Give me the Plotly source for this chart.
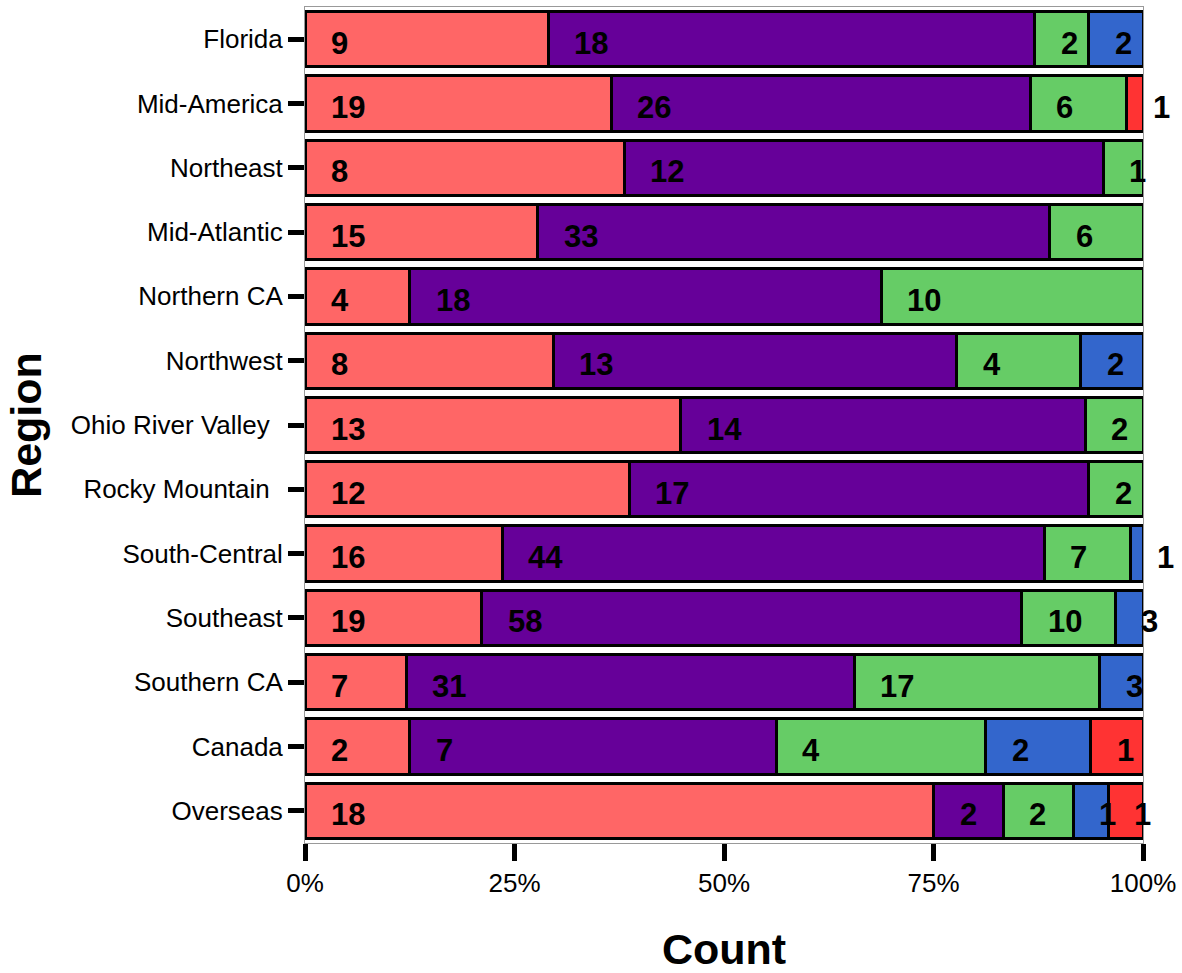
import plotly.graph_objects as go

regions = ["Florida", "Mid-America", "Northeast", "Mid-Atlantic", "Northern CA", "Northwest",
           "Ohio River Valley\u2002", "Rocky Mountain\u2002", "South-Central", "Southeast",
           "Southern CA", "Canada", "Overseas"]
series_names = ["Group 1", "Group 2", "Group 3", "Group 4", "Group 5"]
g1 = [9, 19, 8, 15, 4, 8, 13, 12, 16, 19, 7, 2, 18]
g2 = [18, 26, 12, 33, 18, 13, 14, 17, 44, 58, 31, 7, 2]
g3 = [2, 6, 1, 6, 10, 4, 2, 2, 7, 10, 17, 4, 2]
g4 = [2, 0, 0, 0, 0, 2, 0, 0, 1, 3, 3, 2, 1]
g5 = [0, 1, 0, 0, 0, 0, 0, 0, 0, 0, 0, 1, 1]
colors = ["#FF6666", "#660099", "#66CC66", "#3366CC", "#FF3333"]
tick_vals = [0, 0.25, 0.5, 0.75, 1.0]
tick_text = ["0%", "25%", "50%", "75%", "100%"]

FONT = "Liberation Sans, Arial, sans-serif"
series = [g1, g2, g3, g4, g5]
totals = [sum(s[i] for s in series) for i in range(len(regions))]

fig = go.Figure()
for name, vals, col in zip(series_names, series, colors):
    fig.add_trace(go.Bar(
        y=regions, x=[v / t for v, t in zip(vals, totals)], name=name, orientation="h",
        marker=dict(color=col, line=dict(color="black", width=3)),
        width=0.86, showlegend=False, hoverinfo="skip"))

# labels at the start of each segment
annotations = []
for i, r in enumerate(regions):
    cum = 0.0
    for s in series:
        frac = s[i] / totals[i]
        if s[i] > 0:
            annotations.append(dict(
                x=cum, y=r, xref="x", yref="y", text=f"<b>{s[i]}</b>", showarrow=False,
                xanchor="left", yanchor="middle", xshift=24, yshift=-4,
                font=dict(family=FONT, size=31, color="black")))
        cum += frac

fig.update_layout(
    barmode="stack",
    width=1182, height=973,
    margin=dict(l=305, r=39, t=7, b=130),
    plot_bgcolor="white", paper_bgcolor="white",
    font=dict(family=FONT, color="black"),
    annotations=annotations,
    xaxis=dict(range=[0, 1], tickvals=tick_vals, ticktext=tick_text, ticks="outside",
               ticklen=17, tickwidth=5, tickcolor="black", showgrid=False, zeroline=False,
               showline=True, linecolor="#999999", linewidth=1, mirror=True,
               tickfont=dict(size=26), automargin=False,
               title=dict(text="<b>Count</b>", font=dict(size=43), standoff=40)),
    yaxis=dict(categoryorder="array", categoryarray=regions, autorange="reversed",
               ticks="outside", ticklen=16, tickwidth=5, tickcolor="black",
               showgrid=False, zeroline=False, showline=True, linecolor="#999999",
               linewidth=1, mirror=True, tickfont=dict(size=26), automargin=False,
               title=dict(text="<b>Region</b>", font=dict(size=43), standoff=15)),
)
fig.write_html("out.html", config={"displayModeBar": False},
               post_script="document.body.style.margin='0';")
